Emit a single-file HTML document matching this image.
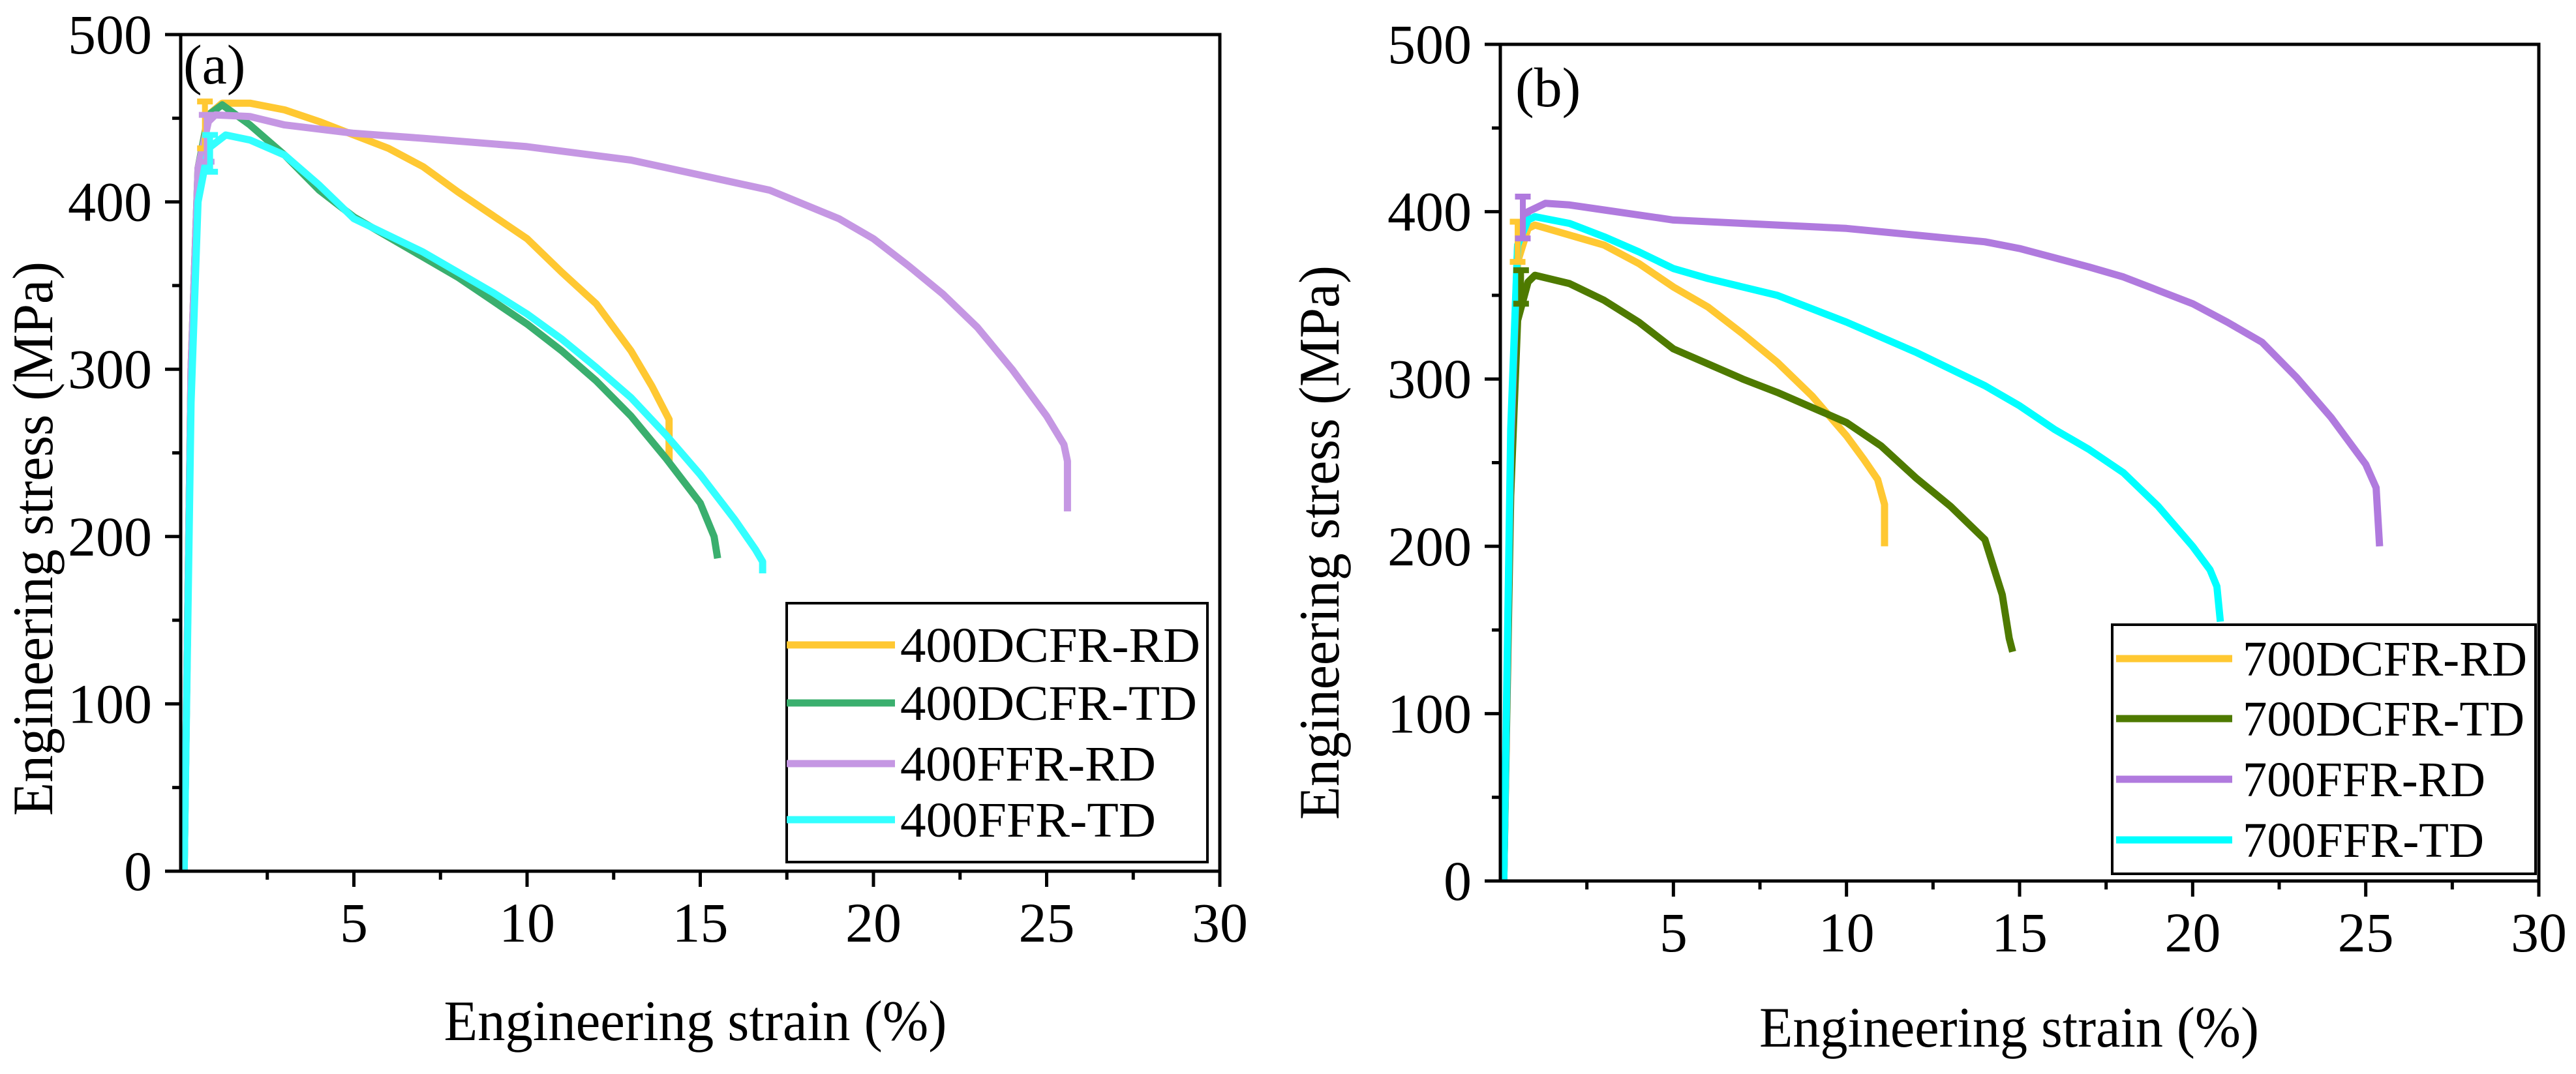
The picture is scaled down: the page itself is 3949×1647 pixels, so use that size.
<!DOCTYPE html>
<html><head><meta charset="utf-8"><style>
html,body{margin:0;padding:0;background:#fff;}
svg text{font-family:"Liberation Serif","Times New Roman",serif;fill:#000;}
</style></head>
<body>
<svg id="fig" width="3949" height="1642" viewBox="0 0 3949 1642" xmlns="http://www.w3.org/2000/svg" font-family="Liberation Serif, serif">
<g id="pa"></g>
<g id="pb"></g>
</svg>
<script>
// ---------- data ----------
const xTicks = [5,10,15,20,25,30];
const yTicks = [0,100,200,300,400,500];
const namesA = ["400DCFR-RD","400DCFR-TD","400FFR-RD","400FFR-TD"];
const namesB = ["700DCFR-RD","700DCFR-TD","700FFR-RD","700FFR-TD"];
const colorsA = ["#ffc832","#3aaf6e","#c597e3","#33ffff"];
const colorsB = ["#ffc832","#4e7a00","#b07ade","#00ffff"];

const a1x=[0.1,0.3,0.5,0.8,1.2,2,3,4,5,6,7,8,9,10,11,12,13,13.6,14.1,14.1];
const a1y=[0,300,420,452,459,459,455,448,440,432,421,406,392,378,358,339,311,290,270,244];
const a2x=[0.1,0.3,0.5,0.8,1.2,2,3,4,5,6,7,8,9,10,11,12,13,14,15,15.4,15.5];
const a2y=[0,300,420,452,458,446,428,407,391,379,367,355,341,327,311,293,272,247,220,200,187];
const a3x=[0.1,0.3,0.5,0.8,1.0,2,3,5,7,10,13,15,17,19,20,21,22,23,24,25,25.5,25.6,25.6];
const a3y=[0,300,420,448,452,451,446,441,438,433,425,416,407,390,378,362,345,325,300,272,255,245,215];
const a4x=[0.1,0.3,0.5,0.8,1.3,2,3,4,5,6,7,8,9,10,11,12,13,14,15,16,16.6,16.8,16.8];
const a4y=[0,280,400,432,440,437,428,410,390,380,370,358,346,333,318,301,283,261,237,210,192,185,178];

const b1x=[0.1,0.3,0.5,0.8,1.0,2,3,4,5,6,7,8,9,10,10.5,10.9,11.1,11.1];
const b1y=[0,250,370,390,392,386,380,369,355,343,327,310,290,266,252,240,225,200];
const b2x=[0.1,0.3,0.5,0.8,1.0,2,3,4,5,6,7,8,9,10,11,12,13,14,14.5,14.7,14.8];
const b2y=[0,230,335,358,362,357,347,334,318,309,300,292,283,274,260,241,224,204,171,145,137];
const b3x=[0.1,0.3,0.5,0.8,1.3,2,3,5,8,10,12,14,15,17,18,19,20,21,22,23,24,25,25.3,25.4];
const b3y=[0,260,380,400,405,404,401,395,392,390,386,382,378,367,361,353,345,334,322,301,277,249,235,200];
const b4x=[0.1,0.3,0.5,0.8,1.0,2,3,4,5,6,8,10,12,14,15,16,17,18,19,20,20.5,20.7,20.8];
const b4y=[0,270,380,395,397,393,385,376,366,360,350,334,316,296,284,270,258,244,224,200,186,176,155];

const errA = [[0.7,432,460],[0.75,424,452],[0.85,418,440]];
const errAcol = [0,2,3];
const errB = [[0.5,370,394],[0.6,345,365],[0.65,384,409]];
const errBcol = [0,1,2];

const NS="http://www.w3.org/2000/svg";
const FF="Liberation Serif, Times New Roman, serif";
function mk(tag,attrs,parent){const e=document.createElementNS(NS,tag);for(const k in attrs)e.setAttribute(k,attrs[k]);parent.appendChild(e);return e;}

function panel(g,L,R,T,B,seriesX,seriesY,colors,names,errs,errCols,label,leg,titles){
  const sx=v=>L+(v/30)*(R-L);
  const sy=v=>B-(v/500)*(B-T);
  for(let s=0;s<seriesX.length;s++){
    let d="";
    for(let i=0;i<seriesX[s].length;i++){d+=(i?"L":"M")+sx(seriesX[s][i]).toFixed(1)+","+sy(seriesY[s][i]).toFixed(1);}
    const p=mk("path",{d:d,fill:"none",stroke:colors[s],"stroke-width":11,"stroke-linejoin":"round"},g);
    
    
  }
  for(let k=0;k<errs.length;k++){
    const e=errs[k],c=colors[errCols[k]];
    const eb=mk("path",{d:"M"+sx(e[0])+","+sy(e[1])+"V"+sy(e[2])+"M"+(sx(e[0])-12)+","+sy(e[1])+"h24M"+(sx(e[0])-12)+","+sy(e[2])+"h24",stroke:c,"stroke-width":9,fill:"none"},g);
    
    
  }
  const fr=mk("rect",{x:L,y:T,width:R-L,height:B-T,fill:"none",stroke:"#000","stroke-width":5},g);
  
  
  for(let v=2.5;v<=30;v+=2.5){
    const major=Math.abs(v%5)<1e-6;
    const t=mk("line",{x1:sx(v),x2:sx(v),y1:B,y2:B+(major?24:13),stroke:"#000","stroke-width":5},g);
    
    
  }
  for(const v of xTicks){
    const t=mk("text",{x:sx(v),y:B+108,"font-size":86,"text-anchor":"middle","font-family":FF},g);
    t.textContent=v;
    
    
  }
  for(let v=0;v<=500;v+=50){
    const major=v%100===0;
    const t=mk("line",{x1:L-(major?24:13),x2:L,y1:sy(v),y2:sy(v),stroke:"#000","stroke-width":5},g);
    
    
  }
  for(const v of yTicks){
    const t=mk("text",{x:L-44,y:sy(v)+29,"font-size":86,"text-anchor":"end","font-family":FF},g);
    t.textContent=v;
    
    
  }
  const pl=mk("text",{x:label[1],y:label[2],"font-size":86,"font-family":FF},g);
  pl.textContent=label[0];
  
  
  const xt=mk("text",{x:titles[0],y:titles[1],"font-size":88,"text-anchor":"middle",textLength:titles[2],lengthAdjust:"spacingAndGlyphs","font-family":FF},g);
  xt.textContent="Engineering strain (%)";
  
  
  const yt=mk("text",{x:0,y:0,"font-size":88,"text-anchor":"middle",textLength:titles[5],lengthAdjust:"spacingAndGlyphs","font-family":FF,transform:"translate("+titles[3]+","+titles[4]+") rotate(-90)"},g);
  yt.textContent="Engineering stress (MPa)";
  
  
  const lg=mk("g",{},g);
  
  
  mk("rect",{x:leg.x,y:leg.y,width:leg.w,height:leg.h,fill:"#fff",stroke:"#000","stroke-width":4},lg);
  for(let s=0;s<names.length;s++){
    const ey=leg.rows[s];
    const ln=mk("line",{x1:leg.lx1,x2:leg.lx2,y1:ey,y2:ey,stroke:colors[s],"stroke-width":11},lg);
    
    
    const tx=mk("text",{x:leg.tx,y:ey+26,"font-size":76,textLength:leg.tw[s],lengthAdjust:"spacingAndGlyphs","font-family":FF},lg);
    tx.textContent=names[s];
    
    
  }
}
panel(document.getElementById("pa"),277,1870,53,1336,[a1x,a2x,a3x,a4x],[a1y,a2y,a3y,a4y],colorsA,namesA,errA,errAcol,["(a)",281,128],
  {x:1206,y:925,w:645,h:397,lx1:1206,lx2:1372,tx:1380,rows:[989,1078,1171,1257],tw:[460,455,392,392]},
  [1066,1595,771,80,826,850]);
panel(document.getElementById("pb"),2300,3892,68,1351,[b1x,b2x,b3x,b4x],[b1y,b2y,b3y,b4y],colorsB,namesB,errB,errBcol,["(b)",2323,163],
  {x:3238,y:958,w:649,h:382,lx1:3244,lx2:3422,tx:3438,rows:[1010,1102,1195,1288],tw:[436,432,372,370]},
  [3080,1605,766,2052,832,850]);
</script>
</body></html>
